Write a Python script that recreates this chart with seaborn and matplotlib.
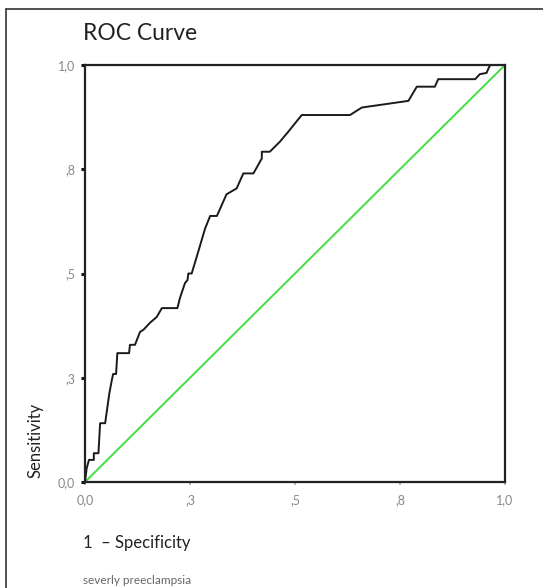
import matplotlib
matplotlib.use("Agg")
import matplotlib.pyplot as plt
from matplotlib.lines import Line2D
import seaborn as sns
import pandas as pd

# ROC curve points: 1 - specificity, sensitivity
fpr = [0.0, 0.004, 0.0095, 0.021, 0.021, 0.032, 0.036, 0.048, 0.058, 0.064,
       0.067, 0.074, 0.077, 0.105, 0.107, 0.119, 0.131, 0.139, 0.155, 0.171,
       0.183, 0.220, 0.226, 0.238, 0.244, 0.246, 0.254, 0.266, 0.286, 0.298,
       0.314, 0.337, 0.361, 0.377, 0.401, 0.421, 0.421, 0.440, 0.464, 0.484,
       0.516, 0.631, 0.659, 0.770, 0.790, 0.833, 0.841, 0.929, 0.940, 0.956,
       0.963, 0.967, 1.0]
tpr = [0.0, 0.033, 0.053, 0.053, 0.069, 0.069, 0.141, 0.141, 0.213, 0.245,
       0.259, 0.259, 0.309, 0.309, 0.329, 0.329, 0.360, 0.365, 0.382, 0.396,
       0.417, 0.417, 0.441, 0.477, 0.484, 0.500, 0.500, 0.540, 0.608, 0.638,
       0.638, 0.690, 0.704, 0.740, 0.740, 0.776, 0.792, 0.792, 0.816, 0.840,
       0.880, 0.880, 0.898, 0.914, 0.948, 0.948, 0.966, 0.966, 0.978, 0.981,
       0.997, 1.0, 1.0]
ref_x = [0.0, 1.0]
ref_y = [0.0, 1.0]
tick_vals = [0.0, 0.25, 0.5, 0.75, 1.0]
tick_labels = ["0,0", ",3", ",5", ",8", "1,0"]

sns.set_style("white")
plt.rcParams["font.family"] = ["Lato", "DejaVu Sans"]

fig = plt.figure(figsize=(5.43, 5.88), dpi=100)
ax = fig.add_axes([85/543, 106/588, 420/543, 417/588])

roc = pd.DataFrame({"fpr": fpr, "tpr": tpr})
diag = pd.DataFrame({"x": ref_x, "y": ref_y})
sns.lineplot(data=diag, x="x", y="y", ax=ax, color="#44dd44", lw=1.4,
             sort=False, estimator=None)
sns.lineplot(data=roc, x="fpr", y="tpr", ax=ax, color="#1a1a1a", lw=1.4,
             sort=False, estimator=None)

ax.set_xlim(0, 1)
ax.set_ylim(0, 1)
ax.set_xticks(tick_vals)
ax.set_xticklabels(tick_labels)
ax.set_yticks(tick_vals)
ax.set_yticklabels(tick_labels)
ax.set_xlabel("")
ax.set_ylabel("")
for s in ax.spines.values():
    s.set_visible(True)
    s.set_color("#222222")
    s.set_linewidth(1.6)
ax.tick_params(axis="y", left=True, length=3, width=2.2, color="#111111",
               labelsize=9, labelcolor="#888888", pad=4)
ax.tick_params(axis="x", bottom=True, length=2.5, width=1.2, color="#aaaaaa",
               labelsize=9, labelcolor="#888888", pad=6)

fig.text(83/543, 1 - 33/588, "ROC Curve", fontsize=16.5, color="#222222",
         ha="left", va="center")
fig.text(35/543, 1 - 478/588, "Sensitivity", fontsize=12, color="#222222",
         rotation=90, ha="center", va="bottom")
fig.text(83/543, 1 - 543/588, "1  \u2013 Specificity", fontsize=12,
         color="#222222", ha="left", va="center")
fig.text(83/543, 1 - 580/588, "severly preeclampsia", fontsize=8.5,
         color="#666666", ha="left", va="center")

# outer frame (top and left edges visible)
fig.add_artist(Line2D([6/543, 1.0], [1 - 9/588, 1 - 9/588],
                      transform=fig.transFigure, color="#333333", lw=1.2))
fig.add_artist(Line2D([6/543, 6/543], [0.0, 1 - 9/588],
                      transform=fig.transFigure, color="#333333", lw=1.2))

fig.savefig("out.png", dpi=100)
